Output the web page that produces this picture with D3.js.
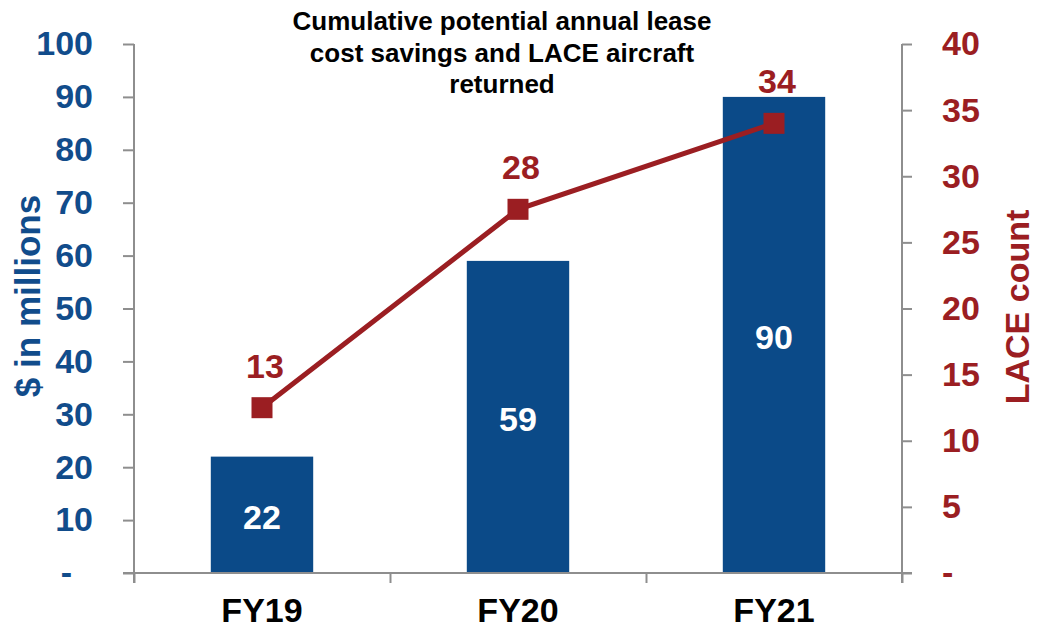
<!DOCTYPE html>
<html>
<head>
<meta charset="utf-8">
<script src="https://cdn.jsdelivr.net/npm/d3@7"></script>
<style>
  html, body { margin: 0; padding: 0; background: #fff; }
  svg { display: block; font-family: "Liberation Sans", Arial, sans-serif; font-weight: bold; }
</style>
</head>
<body>
<svg id="chart" width="1037" height="628"></svg>
<script>
const categories = ["FY19", "FY20", "FY21"];
const savings = [22, 59, 90];          // $ in millions (bars)
const laceCount = [12.5, 27.5, 34];    // LACE count (line)
const laceLabels = ["13", "28", "34"];
const leftTicks = [0, 10, 20, 30, 40, 50, 60, 70, 80, 90, 100];
const rightTicks = [0, 5, 10, 15, 20, 25, 30, 35, 40];
const titleLines = ["Cumulative potential annual lease", "cost savings and LACE aircraft", "returned"];

(function () {
const BLUE = "#0b4a88", BLUE_TXT = "#114c8b", RED = "#9b1e22", AXIS = "#8e8e8e";
const svg = d3.select("#chart");
const pLeft = 134, pRight = 902, pTop = 44, pBottom = 573;

const x = d3.scaleBand().domain(categories).range([pLeft, pRight]).paddingInner(0.6).paddingOuter(0.3);
const yL = d3.scaleLinear().domain([0, 100]).range([pBottom, pTop]);
const yR = d3.scaleLinear().domain([0, 40]).range([pBottom, pTop]);
const xb = d3.scaleLinear().domain([0, categories.length]).range([pLeft, pRight]);

// bars
svg.append("g").selectAll("rect").data(savings).join("rect")
  .attr("x", (d, i) => x(categories[i]))
  .attr("y", d => yL(d))
  .attr("width", x.bandwidth())
  .attr("height", d => yL(0) - yL(d))
  .attr("fill", BLUE);

// bar labels
svg.append("g").selectAll("text").data(savings).join("text")
  .attr("x", (d, i) => x(categories[i]) + x.bandwidth() / 2)
  .attr("y", d => (yL(d) + yL(0)) / 2 + 2)
  .attr("text-anchor", "middle").attr("dominant-baseline", "central")
  .attr("fill", "#fff").attr("font-size", 34).text(d => d);

function styleAxis(g, color) {
  g.select(".domain").attr("stroke", AXIS).attr("stroke-width", 2);
  g.selectAll(".tick line").attr("stroke", AXIS).attr("stroke-width", 2);
  g.selectAll(".tick text").attr("fill", color).attr("font-size", 34)
    .attr("font-family", "Liberation Sans, Arial, sans-serif").attr("font-weight", "bold");
}

// bottom separators axis
const gB = svg.append("g").attr("transform", `translate(0,${pBottom})`)
  .call(d3.axisBottom(xb).tickValues(d3.range(0, categories.length + 1)).tickSize(10).tickSizeOuter(0).tickFormat(""));
styleAxis(gB, "#000");
gB.select(".domain").attr("d", `M${pLeft - 11},0H${pRight + 10}`);

// left axis
const gL = svg.append("g").attr("transform", `translate(${pLeft},0)`)
  .call(d3.axisLeft(yL).tickValues(leftTicks).tickSize(11).tickPadding(30).tickSizeOuter(0)
    .tickFormat(d => d === 0 ? "-" : d));
styleAxis(gL, BLUE_TXT);
gL.select(".domain").attr("d", `M0,${pTop}V${pBottom + 10}`);
gL.selectAll(".tick text").filter(d => d === 0).attr("dx", -21);

// right axis
const gR = svg.append("g").attr("transform", `translate(${pRight},0)`)
  .call(d3.axisRight(yR).tickValues(rightTicks).tickSize(10).tickPadding(30).tickSizeOuter(0)
    .tickFormat(d => d === 0 ? "-" : d));
styleAxis(gR, RED);
gR.select(".domain").attr("d", `M0,${pTop}V${pBottom + 10}`);

// category labels
svg.append("g").selectAll("text").data(categories).join("text")
  .attr("x", d => x(d) + x.bandwidth() / 2)
  .attr("y", 622)
  .attr("text-anchor", "middle").attr("fill", "#000").attr("font-size", 34).text(d => d);

// line
const cx = (d, i) => x(categories[i]) + x.bandwidth() / 2;
svg.append("path").datum(laceCount)
  .attr("d", d3.line().x(cx).y(d => yR(d)))
  .attr("fill", "none").attr("stroke", RED).attr("stroke-width", 5);
svg.append("g").selectAll("rect").data(laceCount).join("rect")
  .attr("x", (d, i) => cx(d, i) - 10.5).attr("y", d => yR(d) - 10.5)
  .attr("width", 21).attr("height", 21).attr("fill", RED);
svg.append("g").selectAll("text").data(laceCount).join("text")
  .attr("x", (d, i) => cx(d, i) + 3).attr("y", d => yR(d) - 30)
  .attr("text-anchor", "middle").attr("fill", RED).attr("font-size", 34)
  .text((d, i) => laceLabels[i]);

// title
svg.append("g").selectAll("text").data(titleLines).join("text")
  .attr("x", 502).attr("y", (d, i) => 30 + i * 31.5)
  .attr("text-anchor", "middle").attr("fill", "#000").attr("font-size", 26).text(d => d);

// axis titles
svg.append("text").attr("transform", "translate(40,296) rotate(-90)")
  .attr("text-anchor", "middle").attr("fill", BLUE_TXT).attr("font-size", 35).text("$ in millions");
svg.append("text").attr("transform", "translate(1029,307) rotate(-90)")
  .attr("text-anchor", "middle").attr("fill", RED).attr("font-size", 34).text("LACE count");
})();
</script>
</body>
</html>
